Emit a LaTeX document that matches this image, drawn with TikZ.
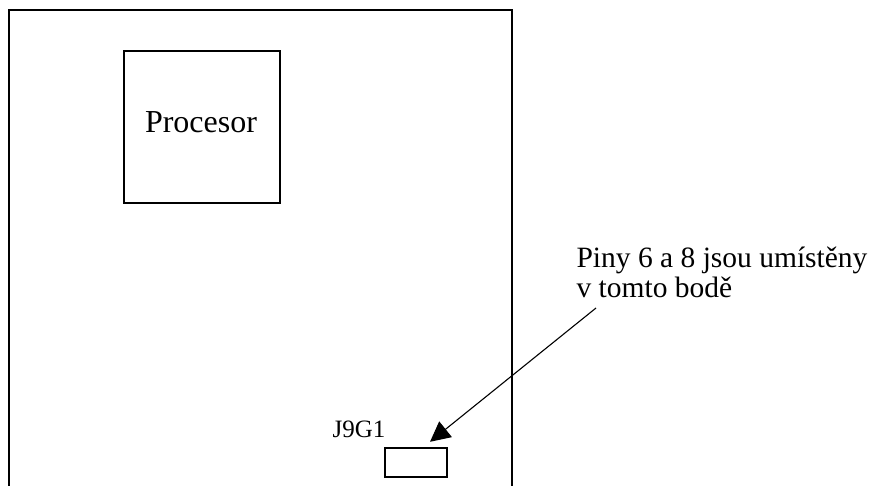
\documentclass[tikz,border=0pt]{standalone}
\usepackage{fontspec}
\setmainfont{Liberation Serif}
\usetikzlibrary{positioning, arrows.meta}

\begin{document}
\begin{tikzpicture}[x=1pt,y=-1pt,line width=1.1pt,
		part/.style = {draw, inner sep=0pt},
		txt/.style = {inner sep=0pt, font=\fontsize{29.5}{34}\selectfont}]
		\useasboundingbox (0,0) rectangle (879,486);
		\draw (9,486) -- (9,10) -- (512,10) -- (512,486);
		\node[part, minimum width=156pt, minimum height=152pt] (cpu) at (202,127) {};
		\node[txt, font=\fontsize{32}{36}\selectfont, anchor=base] (cpuname) at (201,133) {Procesor};
		\node[part, minimum width=62pt, minimum height=29pt] (jumper) at (416,462.5) {};
		\node[txt, font=\fontsize{25}{30}\selectfont, anchor=base east] (jname) at (386,438) {J9G1};
		\node[txt, anchor=base west] (pins) at (576,268) {Piny 6 a 8 jsou umístěny};
		\node[txt, anchor=base west] (here) at (576,298) {v tomto bodě};
		\coordinate (tail) at (596,308);
		\draw[-{Triangle[length=20pt,width=20pt]}, shorten >=9pt] (tail) to ([xshift=7pt]jumper.north);
	\end{tikzpicture}
\end{document}
